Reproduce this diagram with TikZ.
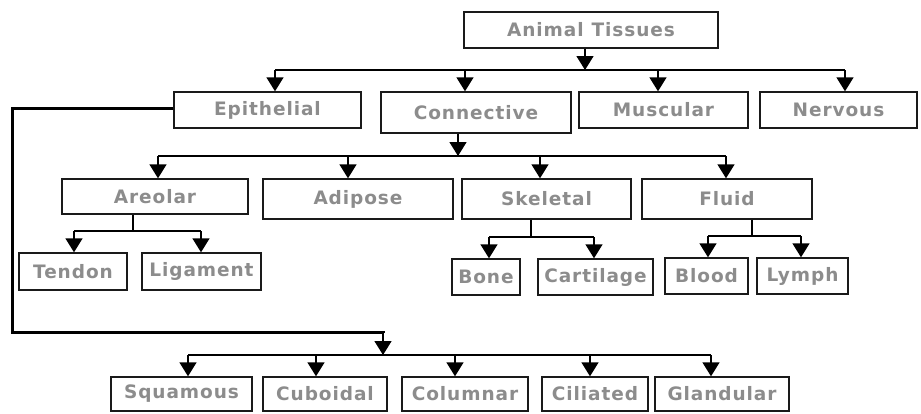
\documentclass[tikz,border=0pt]{standalone}
\usepackage{fontspec}
\setmainfont{DejaVu Sans}[LetterSpace=5]
\usetikzlibrary{arrows.meta}
\definecolor{txt}{HTML}{8C8C8C}
\definecolor{edge}{HTML}{1A1A1A}
\begin{document}
\begin{tikzpicture}[x=1pt,y=-1pt,
  box/.style={draw=edge,line width=1.4pt,rectangle,inner sep=0pt,
    text=txt,font=\fontsize{18.5}{21}\selectfont\bfseries},
  arr/.style={line width=1.5pt,-{Triangle[width=17pt,length=14pt]}},
  ln/.style={line width=1.5pt},
  thick3/.style={line width=3pt}]
\useasboundingbox (0,0) rectangle (921,413);
\fill[white] (0,0) rectangle (921,413);
% nodes
\node[box,minimum width=254pt,minimum height=36pt] (top) at (591,30) {Animal\hspace{8pt}Tissues};
\node[box,minimum width=187pt,minimum height=36pt] (epi) at (267.5,110) {Epithelial};
\node[box,minimum width=190pt,minimum height=41pt] (con) at (476,112.5) {Connective};
\node[box,minimum width=169pt,minimum height=36pt] (mus) at (663.5,110) {Muscular};
\node[box,minimum width=157pt,minimum height=36pt] (ner) at (838.5,110) {Nervous};
\node[box,minimum width=186pt,minimum height=35pt] (are) at (155,196.5) {Areolar};
\node[box,minimum width=190pt,minimum height=40pt] (adi) at (358,199) {Adipose};
\node[box,minimum width=169pt,minimum height=40pt] (ske) at (546.5,199) {Skeletal};
\node[box,minimum width=170pt,minimum height=40pt] (flu) at (727,199) {Fluid};
\node[box,minimum width=108pt,minimum height=37pt] (ten) at (73,271.5) {Tendon};
\node[box,minimum width=119pt,minimum height=37pt] (lig) at (201.5,271.5) {Ligament};
\node[box,minimum width=68pt,minimum height=36pt] (bon) at (486,277) {Bone};
\node[box,minimum width=115pt,minimum height=36pt] (car) at (595.5,277) {Cartilage};
\node[box,minimum width=83pt,minimum height=36pt] (blo) at (706.5,276) {Blood};
\node[box,minimum width=91pt,minimum height=36pt] (lym) at (802.5,276) {Lymph};
\node[box,minimum width=141pt,minimum height=34pt] (squ) at (181.5,394) {Squamous};
\node[box,minimum width=124pt,minimum height=34pt] (cub) at (325,394) {Cuboidal};
\node[box,minimum width=126pt,minimum height=34pt] (col) at (465,394) {Columnar};
\node[box,minimum width=106pt,minimum height=34pt] (cil) at (595,394) {Ciliated};
\node[box,minimum width=134pt,minimum height=34pt] (gla) at (722,394) {Glandular};
% level 1
\coordinate (t0) at (585,70);
\coordinate (t1) at (275,70);
\coordinate (t2) at (465,70);
\coordinate (t3) at (658,70);
\coordinate (t4) at (845,70);
\draw[arr] (t0 |- top.south) -- (t0);
\draw[ln] (t1) -- (t4);
\draw[arr] (t1) -- (t1 |- epi.north);
\draw[arr] (t2) -- (t2 |- con.north);
\draw[arr] (t3) -- (t3 |- mus.north);
\draw[arr] (t4) -- (t4 |- ner.north);
% connective
\coordinate (c0) at (458,156);
\coordinate (c1) at (158,156);
\coordinate (c2) at (348,156);
\coordinate (c3) at (540,156);
\coordinate (c4) at (726,156);
\draw[arr] (c0 |- con.south) -- (c0);
\draw[ln] (c1) -- (c4);
\draw[arr] (c1) -- (c1 |- are.north);
\draw[arr] (c2) -- (c2 |- adi.north);
\draw[arr] (c3) -- (c3 |- ske.north);
\draw[arr] (c4) -- (c4 |- flu.north);
% areolar
\coordinate (a0) at (133,231);
\coordinate (a1) at (74,231);
\coordinate (a2) at (201,231);
\draw[ln] (a0 |- are.south) -- (a0);
\draw[ln] (a1) -- (a2);
\draw[arr] (a1) -- (a1 |- ten.north);
\draw[arr] (a2) -- (a2 |- lig.north);
% skeletal
\coordinate (s0) at (531,237);
\coordinate (s1) at (489,237);
\coordinate (s2) at (594,237);
\draw[ln] (s0 |- ske.south) -- (s0);
\draw[ln] (s1) -- (s2);
\draw[arr] (s1) -- (s1 |- bon.north);
\draw[arr] (s2) -- (s2 |- car.north);
% fluid
\coordinate (f0) at (752,236);
\coordinate (f1) at (708,236);
\coordinate (f2) at (801,236);
\draw[ln] (f0 |- flu.south) -- (f0);
\draw[ln] (f1) -- (f2);
\draw[arr] (f1) -- (f1 |- blo.north);
\draw[arr] (f2) -- (f2 |- lym.north);
% epithelial
\coordinate (e1) at (12,108);
\coordinate (e2) at (12,332);
\coordinate (e3) at (383,332);
\coordinate (e0) at (383,355);
\draw[thick3] (epi.west |- e1) -- (e1) -- (e2) -- (e3) -- ([yshift=-0.75pt]e3);
\draw[arr] (e3) -- (e0);
\coordinate (p1) at (188,355);
\coordinate (p2) at (316,355);
\coordinate (p3) at (455,355);
\coordinate (p4) at (590,355);
\coordinate (p5) at (711,355);
\draw[ln] (p1) -- (p5);
\draw[arr] (p1) -- (p1 |- squ.north);
\draw[arr] (p2) -- (p2 |- cub.north);
\draw[arr] (p3) -- (p3 |- col.north);
\draw[arr] (p4) -- (p4 |- cil.north);
\draw[arr] (p5) -- (p5 |- gla.north);
\end{tikzpicture}
\end{document}
